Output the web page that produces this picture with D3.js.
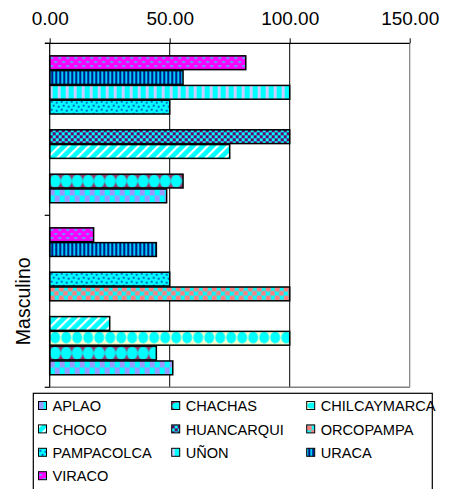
<!DOCTYPE html>
<html><head><meta charset="utf-8">
<script src="https://cdn.jsdelivr.net/npm/d3@7"></script>
<style>body{margin:0;background:#fff}svg{display:block;font-family:"Liberation Sans",Arial,sans-serif}</style>
</head><body>
<script>
const categories = ["Femenino", "Masculino"];          // top to bottom
const categoryLabels = ["", "Masculino"];
const series = ["APLAO","CHACHAS","CHILCAYMARCA","CHOCO","HUANCARQUI","ORCOPAMPA","PAMPACOLCA","UÑON","URACA","VIRACO"];
const femenino  = [48.72, 55.56, 0, 75, 100, 0, 50, 100, 55.56, 81.7];
const masculino = [51.28, 44.44, 100, 25, 0, 100, 50, 0, 44.44, 18.3];
const xTicks = [0, 50, 100, 150];

const W = 453, H = 489;
const svg = d3.select("body").append("svg").attr("width", W).attr("height", H);
const defs = svg.append("defs");

const x = d3.scaleLinear().domain([0, 150]).range([49.7, 409.7]);
const yCat = d3.scaleBand().domain(categories).range([43.3, 387.3]).paddingInner(0.14).paddingOuter(0.07);
const ySer = d3.scaleBand().domain(series.slice().reverse()).range([0, yCat.bandwidth()]);
const bh = ySer.bandwidth();

// pattern builders
function ellipsePat(p, h, bg, fg, rx, ry, cyf) {
  p.attr("width", 11).attr("height", h);
  p.append("rect").attr("width", 11).attr("height", h).attr("fill", bg);
  p.append("ellipse").attr("cx", 5.5).attr("cy", h * cyf).attr("rx", rx).attr("ry", h / 2 * ry).attr("fill", fg);
}
const builders = {
  APLAO: (p, h) => { p.attr("width", 10).attr("height", 14);
    p.append("rect").attr("width", 10).attr("height", 14).attr("fill", "#00FFFF");
    p.append("rect").attr("x", 0).attr("y", 0).attr("width", 5).attr("height", 7).attr("fill", "#9999FF");
    p.append("rect").attr("x", 5).attr("y", 7).attr("width", 5).attr("height", 7).attr("fill", "#9999FF"); },
  CHACHAS: (p, h) => ellipsePat(p, h, "#993366", "#00FFFF", 5.4, 0.88, 0.5),
  CHILCAYMARCA: (p, h) => ellipsePat(p, h, "#FFFFCC", "#00FFFF", 5.0, 0.8, 0.45),
  CHOCO: (p, h) => { p.attr("width", 7).attr("height", 10);
    p.append("rect").attr("width", 7).attr("height", 10).attr("fill", "#00FFFF");
    p.append("rect").attr("width", 2.2).attr("height", 10).attr("fill", "#FFFFFF"); },
  HUANCARQUI: (p, h) => { p.attr("width", 6).attr("height", 6);
    p.append("rect").attr("width", 6).attr("height", 6).attr("fill", "#00FFFF");
    p.append("rect").attr("width", 3).attr("height", 3).attr("fill", "#660066");
    p.append("rect").attr("x", 3).attr("y", 3).attr("width", 3).attr("height", 3).attr("fill", "#660066"); },
  ORCOPAMPA: (p, h) => { p.attr("width", 9).attr("height", 9);
    p.append("rect").attr("width", 9).attr("height", 9).attr("fill", "#00FFFF");
    p.append("circle").attr("cx", 2.5).attr("cy", 2.5).attr("r", 2.8).attr("fill", "#FF8080");
    p.append("circle").attr("cx", 7).attr("cy", 7).attr("r", 2.8).attr("fill", "#FF8080"); },
  PAMPACOLCA: (p, h) => { p.attr("width", 10).attr("height", 8);
    p.append("rect").attr("width", 10).attr("height", 8).attr("fill", "#00FFFF");
    [[1,1],[6,2],[3,5],[8,6]].forEach(([a,b]) => p.append("rect").attr("x", a).attr("y", b).attr("width", 2).attr("height", 2).attr("fill", "#0066CC")); },
  "UÑON": (p, h) => { p.attr("width", 8).attr("height", 8);
    p.append("rect").attr("width", 8).attr("height", 8).attr("fill", "#00FFFF");
    p.append("rect").attr("width", 3).attr("height", 8).attr("fill", "#CCCCFF"); },
  URACA: (p, h) => { p.attr("width", 4).attr("height", 4);
    p.append("rect").attr("width", 4).attr("height", 4).attr("fill", "#0066CC");
    p.append("rect").attr("x", 0).attr("width", 1).attr("height", 4).attr("fill", "#00FFFF");
    p.append("rect").attr("x", 2).attr("width", 1).attr("height", 4).attr("fill", "#000066"); },
  VIRACO: (p, h) => { p.attr("width", 8).attr("height", 8);
    p.append("rect").attr("width", 8).attr("height", 8).attr("fill", "#FF00FF");
    p.append("rect").attr("x", 0.5).attr("y", 2).attr("width", 3).attr("height", 1.3).attr("fill", "#00FFFF");
    p.append("rect").attr("x", 4.5).attr("y", 6).attr("width", 3).attr("height", 1.3).attr("fill", "#00FFFF"); }
};
function makePattern(id, name, x0, y0, h) {
  const p = defs.append("pattern").attr("id", id).attr("patternUnits", "userSpaceOnUse");
  builders[name](p, h);
  if (name === "CHOCO") p.attr("patternTransform", `translate(${x0},${y0}) rotate(45)`);
  else p.attr("patternTransform", `translate(${x0},${y0})`);
  return `url(#${id})`;
}

// gridlines & plot border
const plotTop = 43.3, plotBot = 387.3;
svg.append("g").selectAll("line").data([50, 100]).join("line")
  .attr("x1", d => x(d)).attr("x2", d => x(d)).attr("y1", plotTop).attr("y2", plotBot)
  .attr("stroke", "#000").attr("stroke-width", 1);
svg.append("line").attr("x1", x(150)).attr("x2", x(150)).attr("y1", plotTop).attr("y2", plotBot).attr("stroke", "#808080").attr("stroke-width", 1.2);
svg.append("line").attr("x1", x(0)).attr("x2", x(150)).attr("y1", plotBot).attr("y2", plotBot).attr("stroke", "#808080").attr("stroke-width", 1.5);

// bars
const dataRows = [femenino, masculino];
categories.forEach((c, ci) => {
  const g = svg.append("g");
  series.forEach((s, si) => {
    const v = dataRows[ci][si];
    if (!v) return;
    const yy = yCat(c) + ySer(s);
    const fill = makePattern(`p${ci}_${si}`, s, x(0), yy, bh);
    g.append("rect").attr("x", x(0)).attr("y", yy + 0.5).attr("width", x(v) - x(0)).attr("height", bh - 1)
      .attr("fill", fill).attr("stroke", "#000").attr("stroke-width", 1.5);
  });
});

// x axis (top)
const xa = svg.append("g").attr("transform", `translate(0,${plotTop})`)
  .call(d3.axisTop(x).tickValues(xTicks).tickFormat(d3.format(".2f")).tickSize(5).tickSizeOuter(0));
xa.select(".domain").remove();
xa.selectAll(".tick line").attr("stroke", "#000");
xa.selectAll(".tick text").attr("font-size", 19).attr("font-family", "Liberation Sans, Arial, sans-serif").attr("fill", "#000").attr("dy", 0).attr("y", -18);
svg.append("line").attr("x1", 45).attr("x2", x(150)).attr("y1", plotTop).attr("y2", plotTop).attr("stroke", "#000").attr("stroke-width", 1.2);

// y axis (left)
svg.append("line").attr("x1", x(0)).attr("x2", x(0)).attr("y1", plotTop).attr("y2", plotBot).attr("stroke", "#000").attr("stroke-width", 1.2);
const bounds = [plotTop, yCat(categories[1]) - yCat.step() * yCat.paddingInner() / 2, plotBot];
svg.append("g").selectAll("line").data(bounds).join("line")
  .attr("x1", x(0) - 5).attr("x2", x(0)).attr("y1", d => d).attr("y2", d => d).attr("stroke", "#000").attr("stroke-width", 1.2);
svg.append("g").selectAll("text").data(categories).join("text")
  .attr("transform", d => `translate(30,${yCat(d) + yCat.bandwidth() / 2}) rotate(-90)`)
  .attr("text-anchor", "middle").attr("font-size", 19.5).attr("fill", "#000")
  .text((d, i) => categoryLabels[i]);

// legend
svg.append("rect").attr("x", 33.3).attr("y", 393.3).attr("width", 399).attr("height", 100)
  .attr("fill", "#fff").attr("stroke", "#000").attr("stroke-width", 1.2);
const colX = [38.5, 171.7, 306.7];
series.forEach((s, i) => {
  const cx = colX[i % 3], cy = 406 + Math.floor(i / 3) * 23.4;
  const fill = makePattern(`lg${i}`, s, cx, cy - 4, 8);
  svg.append("rect").attr("x", cx).attr("y", cy - 4.5).attr("width", 8).attr("height", 8)
    .attr("fill", fill).attr("stroke", "#000").attr("stroke-width", 1);
  svg.append("text").attr("x", cx + 14).attr("y", cy + 5.2).attr("font-size", 14.6).attr("fill", "#000").text(s);
});
</script>
</body></html>
